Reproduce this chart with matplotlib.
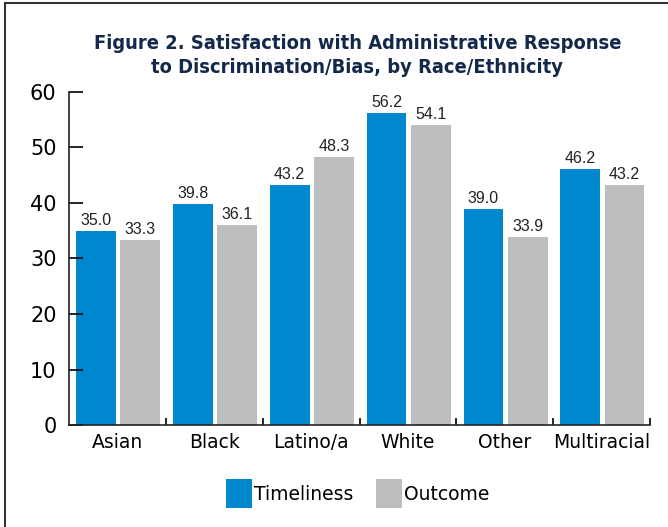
import numpy as np
import matplotlib.pyplot as plt
from matplotlib import font_manager
from matplotlib.patches import Rectangle

# Data
groups = ["Asian", "Black", "Latino/a", "White", "Other", "Multiracial"]
timeliness = [35.0, 39.8, 43.2, 56.2, 39.0, 46.2]
outcome = [33.3, 36.1, 48.3, 54.1, 33.9, 43.2]

blue = "#0088CE"
gray = "#BDBEC0"
navy = "#14284B"


def is_bold(f):
    w = f.weight
    if isinstance(w, str):
        return w.lower() in ("bold", "heavy", "black", "extra bold", "semibold", "demibold")
    return w >= 600


# look for a condensed bold face for the title
cands = [f for f in font_manager.fontManager.ttflist
         if ("Narrow" in f.name or "Condensed" in f.name or "condensed" in str(f.stretch))
         and is_bold(f) and "Italic" not in f.fname and "italic" not in f.style]
cands.sort(key=lambda f: f.fname)
if cands:
    title_fp = font_manager.FontProperties(fname=cands[0].fname, size=14.4)
else:
    title_fp = font_manager.FontProperties(family="Liberation Sans", weight="bold", size=14)

fig = plt.figure(figsize=(6.68, 5.27), dpi=100)
ax = fig.add_axes([0.1033, 0.1935, 0.87, 0.632])

x = np.arange(len(groups))
w = 0.41
b1 = ax.bar(x - 0.222, timeliness, w, color=blue, label="Timeliness")
b2 = ax.bar(x + 0.236, outcome, w, color=gray, label="Outcome")

for bars, vals in [(b1, timeliness), (b2, outcome)]:
    for r, v in zip(bars, vals):
        ax.text(r.get_x() + r.get_width() / 2, v + 0.5, f"{v:.1f}",
                ha="center", va="bottom", fontsize=11.5, color="#222222",
                family="Liberation Sans")

ax.set_xlim(-0.5, 5.5)
ax.set_ylim(0, 60)
ax.set_yticks(range(0, 61, 10))
ax.tick_params(axis="y", direction="in", length=10, width=1.2, labelsize=15, pad=9)
ax.set_xticks(x)
ax.set_xticklabels(groups, fontsize=13.5)
ax.tick_params(axis="x", length=0, pad=6)
# small upward ticks at group borders
ax.set_xticks(np.arange(0.5, 6, 1), minor=True)
ax.tick_params(axis="x", which="minor", direction="in", length=5, width=1.2)

for s in ["top", "right"]:
    ax.spines[s].set_visible(False)
for s in ["left", "bottom"]:
    ax.spines[s].set_linewidth(1.2)
    ax.spines[s].set_color("#222222")

fig.text(0.535, 0.895, "Figure 2. Satisfaction with Administrative Response\nto Discrimination/Bias, by Race/Ethnicity",
         ha="center", va="center", color=navy, fontproperties=title_fp, linespacing=1.35)

leg = fig.legend(handles=[b1, b2], loc="center", bbox_to_anchor=(0.535, 0.063), ncol=2,
                 frameon=False, fontsize=13.5, handlelength=1.4, handleheight=2.0,
                 handletextpad=0.1, columnspacing=1.2)

# frame around the figure (cut off at right and bottom in the reference)
fig.patches.append(Rectangle((5 / 668, -0.1), 1.2, 1.1 - 3 / 527, transform=fig.transFigure,
                             fill=False, edgecolor="#333333", linewidth=1.5))

fig.savefig("out.png", dpi=100)
